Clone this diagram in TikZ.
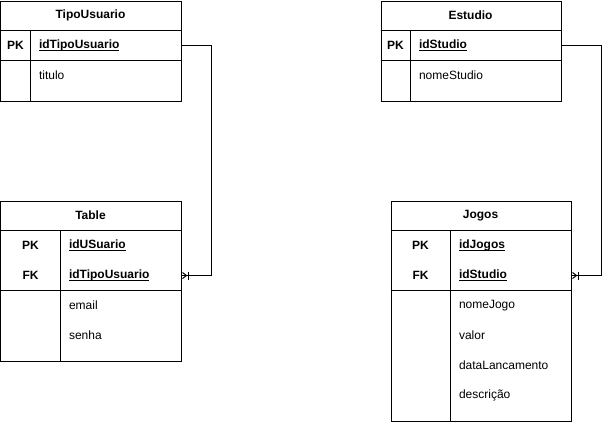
\documentclass[tikz,border=0pt]{standalone}
\usepackage{fontspec}
\setmainfont{Liberation Sans}
\newcommand\keyname[1]{\setbox0\hbox{#1}\rlap{\vrule height -1.5pt depth 2.5pt width \wd0}\box0}
\tikzset{
  pics/crowfoot/.style={code={
    \draw (1,-3) -- (5,0) -- (1,3);
    \draw (7,-4) -- (7,4);
  }}
}
\begin{document}
\begin{tikzpicture}[x=1pt,y=-1pt,line width=1pt,
  every node/.style={font=\fontsize{12}{14}\selectfont},
  entity/.style={draw,anchor=north west,inner sep=0pt},
  head/.style={font=\fontsize{12}{14}\selectfont\bfseries},
  tag/.style={font=\fontsize{12}{14}\selectfont\bfseries},
  keyfield/.style={anchor=west,inner xsep=0pt,font=\fontsize{12}{14}\selectfont\bfseries},
  field/.style={anchor=west,inner xsep=0pt}]
  \useasboundingbox (-0.5,-0.5) rectangle (608.5,420.5);

  % TipoUsuario
  \node[entity,minimum width=180,minimum height=100] (tipo) at (0,0) {};
  \draw (0,30) -- (180,30) (0,60) -- (180,60) (30,30) -- (30,100);
  \node[head] (tipoT) at (90,15) {TipoUsuario};
  \node[tag] (tipoPK) at (15,45) {PK};
  \node[keyfield] (tipoId) at (38,45) {\keyname{idTipoUsuario}};
  \node[field] (tipoTit) at (38,75) {titulo};

  % Table
  \node[entity,minimum width=180,minimum height=160] (usr) at (0,200) {};
  \draw (0,230) -- (180,230) (0,290) -- (180,290) (60,230) -- (60,360);
  \node[head] (usrT) at (90,215) {Table};
  \node[tag] (usrPK) at (30,245) {PK};
  \node[tag] (usrFK) at (30,275) {FK};
  \node[keyfield] (usrId) at (68,245) {\keyname{idUSuario}};
  \node[keyfield] (usrFk) at (68,275) {\keyname{idTipoUsuario}};
  \node[field] (usrMail) at (68,305) {email};
  \node[field] (usrPass) at (68,335) {senha};

  % Estudio
  \node[entity,minimum width=180,minimum height=100] (est) at (380,0) {};
  \draw (380,30) -- (560,30) (380,60) -- (560,60) (410,30) -- (410,100);
  \node[head] (estT) at (470,15) {Estudio};
  \node[tag] (estPK) at (395,45) {PK};
  \node[keyfield] (estId) at (418,45) {\keyname{idStudio}};
  \node[field] (estNome) at (418,75) {nomeStudio};

  % Jogos
  \node[entity,minimum width=180,minimum height=220] (jog) at (390,200) {};
  \draw (390,230) -- (570,230) (390,290) -- (570,290) (450,230) -- (450,420);
  \node[head] (jogT) at (480,215) {Jogos};
  \node[tag] (jogPK) at (420,245) {PK};
  \node[tag] (jogFK) at (420,275) {FK};
  \node[keyfield] (jogId) at (458,245) {\keyname{idJogos}};
  \node[keyfield] (jogFk) at (458,275) {\keyname{idStudio}};
  \node[field] (jogNome) at (458,305) {nomeJogo};
  \node[field] (jogVal) at (458,335) {valor};
  \node[field] (jogData) at (458,365) {dataLancamento};
  \node[field] (jogDesc) at (458,395) {descrição};

  % relations
  \draw (tipo.east |- tipoId) -- ++(30,0) |- (usr.east |- usrFk);
  \pic at (usr.east |- usrFk) {crowfoot};
  \draw (est.east |- estId) -- ++(40,0) |- (jog.east |- jogFk);
  \pic at (jog.east |- jogFk) {crowfoot};
\end{tikzpicture}
\end{document}
